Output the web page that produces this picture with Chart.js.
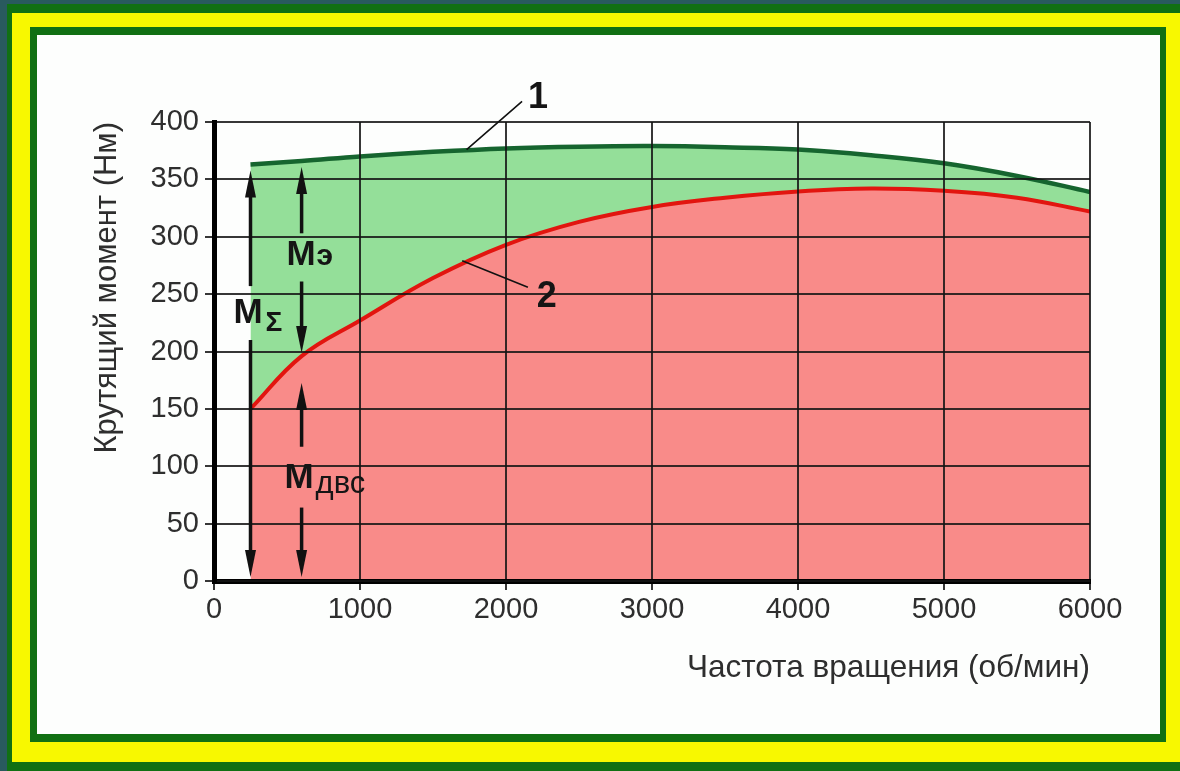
<!DOCTYPE html>
<html>
<head>
<meta charset="utf-8">
<script src="https://cdn.jsdelivr.net/npm/chart.js@4/dist/chart.umd.min.js"></script>
<style>
html,body{margin:0;padding:0;width:1180px;height:771px;overflow:hidden;background:#295a5e;}
.box{position:absolute;}
#g1{left:7px;top:4px;width:1200px;height:800px;background:#117013;}
#yl{left:12px;top:13px;width:1200px;height:749px;background:#f8f800;}
#g2{left:30px;top:27px;width:1136px;height:715px;background:#117013;}
#wh{left:37px;top:35px;width:1123px;height:699px;background:#fdfefd;}
#c{position:absolute;left:0;top:0;}
</style>
</head>
<body>
<div class="box" id="g1"></div>
<div class="box" id="yl"></div>
<div class="box" id="g2"></div>
<div class="box" id="wh"></div>
<canvas id="c" width="1180" height="771"></canvas>
<script>
// частота вращения, об/мин
var rpm = [250, 600, 1000, 1500, 2000, 2500, 3000, 3500, 4000, 4500, 5000, 5500, 6000];
// кривая 1 - суммарный момент
var totalTorque = [363, 366, 370, 374, 377, 378.5, 379, 378, 376, 371, 364, 353, 339];
// кривая 2 - момент ДВС
var iceTorque = [150, 196, 227, 264, 293, 313, 326, 334, 339.5, 342, 340, 334, 322];

var xStep = 1000;
var yStep = 50;

var FONT = "'Liberation Sans', Arial, sans-serif";

function pts(vals){
    var out = [];
    for (var i = 0; i < rpm.length; i++) out.push({x: rpm[i], y: vals[i]});
    return out;
}

function arrowHead(ctx, x, tipY, dir){
    // dir = -1 up, 1 down
    ctx.beginPath();
    ctx.moveTo(x, tipY);
    ctx.lineTo(x - 5.5, tipY - dir * 27);
    ctx.lineTo(x + 5.5, tipY - dir * 27);
    ctx.closePath();
    ctx.fill();
}

function vline(ctx, x, y1, y2){
    ctx.beginPath();
    ctx.moveTo(x, y1);
    ctx.lineTo(x, y2);
    ctx.stroke();
}

var notes = {
    id: 'notes',
    afterDraw: function(chart){
        var ctx = chart.ctx;
        var X = function(v){ return chart.scales.x.getPixelForValue(v); };
        var Y = function(v){ return chart.scales.y.getPixelForValue(v); };
        ctx.save();
        ctx.fillStyle = '#111';
        ctx.strokeStyle = '#111';
        ctx.lineWidth = 3.5;

        // M sum arrow
        var xa = X(rpm[0]);
        var top = Y(totalTorque[0]) + 6;
        vline(ctx, xa, top + 20, Y(257));
        arrowHead(ctx, xa, top, -1);
        vline(ctx, xa, Y(210), Y(0) - 20);
        arrowHead(ctx, xa, Y(0) - 4, 1);

        // M e / M ice arrow
        var xb = X(rpm[1]);
        var topb = Y(totalTorque[1]) + 6;
        vline(ctx, xb, topb + 20, Y(303));
        arrowHead(ctx, xb, topb, -1);
        var mid = Y(iceTorque[1]);
        vline(ctx, xb, Y(261), mid - 20);
        arrowHead(ctx, xb, mid - 3, 1);
        vline(ctx, xb, mid + 45, Y(117));
        arrowHead(ctx, xb, mid + 27, -1);
        vline(ctx, xb, Y(64), Y(0) - 20);
        arrowHead(ctx, xb, Y(0) - 4, 1);

        ctx.textBaseline = 'alphabetic';
        ctx.textAlign = 'left';
        ctx.fillStyle = '#151515';
        ctx.font = 'bold 35px ' + FONT;
        ctx.fillText('М', xa - 17, Y(225));
        ctx.fillText('М', xb - 15, Y(275));
        ctx.fillText('М', xb - 17, Y(81));
        ctx.font = 'bold 28px ' + FONT;
        ctx.fillText('Σ', xa + 15, Y(218));
        ctx.font = 'bold 30px ' + FONT;
        ctx.fillText('э', xb + 15, Y(275));
        ctx.font = '31px ' + FONT;
        ctx.fillText('двс', xb + 14, Y(77));

        // callouts 1 and 2
        ctx.lineWidth = 1.6;
        ctx.beginPath();
        ctx.moveTo(X(1730), Y(376));
        ctx.lineTo(X(2110), Y(418));
        ctx.moveTo(X(1700), Y(279));
        ctx.lineTo(X(2150), Y(256));
        ctx.stroke();
        ctx.font = 'bold 36px ' + FONT;
        ctx.textAlign = 'center';
        ctx.fillText('1', X(2220), Y(412));
        ctx.fillText('2', X(2280), Y(239));
        ctx.restore();
    }
};

new Chart(document.getElementById('c'), {
    type: 'line',
    data: {
        datasets: [{
            label: '2',
            data: pts(iceTorque),
            borderColor: '#e2150f',
            borderWidth: 4,
            backgroundColor: '#f98b89',
            fill: 'origin',
            pointRadius: 0,
            tension: 0.4
        }, {
            label: '1',
            data: pts(totalTorque),
            borderColor: '#16652f',
            borderWidth: 4.5,
            backgroundColor: '#94df99',
            fill: 0,
            pointRadius: 0,
            tension: 0.4
        }]
    },
    options: {
        responsive: false,
        animation: false,
        layout: {padding: {left: 0, top: 122, right: 90, bottom: 0}},
        plugins: {legend: {display: false}, tooltip: {enabled: false}},
        scales: {
            x: {
                type: 'linear',
                min: 0, max: 6000,
                afterFit: function(s){ s.height = 190; },
                ticks: {stepSize: xStep, maxRotation: 0, padding: 3, color: '#2e2e2e',
                        font: {family: FONT, size: 29},
                        callback: function(v){ return String(v); }},
                grid: {color: 'rgba(20,20,20,0.85)', lineWidth: 2, tickLength: 9, z: 1},
                border: {color: '#000', width: 5, z: 1},
                title: {display: true, text: 'Частота вращения (об/мин)', align: 'end', color: '#2e2e2e',
                        font: {family: FONT, size: 31.5}, padding: {top: 0, bottom: 84}}
            },
            y: {
                min: 0, max: 400,
                afterFit: function(s){ s.width = 214; },
                ticks: {stepSize: yStep, padding: 6, color: '#2e2e2e', font: {family: FONT, size: 29},
                        callback: function(v){ return String(v); }},
                grid: {color: 'rgba(20,20,20,0.85)', lineWidth: 2, tickLength: 9, z: 1},
                border: {color: '#000', width: 5, z: 1},
                title: {display: true, text: 'Крутящий момент (Нм)', align: 'end', color: '#2e2e2e',
                        font: {family: FONT, size: 31}, padding: {top: 89, bottom: 0}}
            }
        }
    },
    plugins: [notes]
});
</script>
</body>
</html>
